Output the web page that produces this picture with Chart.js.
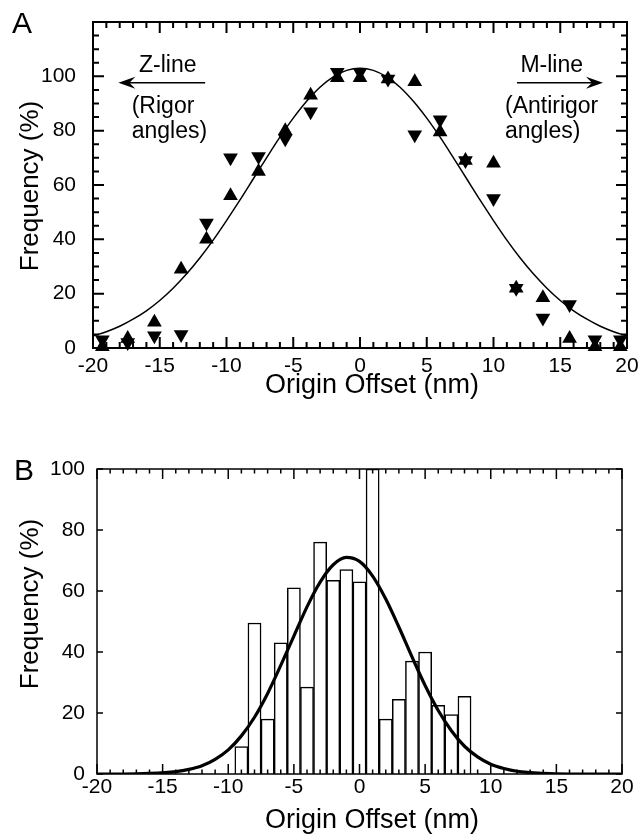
<!DOCTYPE html>
<html>
<head>
<meta charset="utf-8">
<script src="https://cdn.jsdelivr.net/npm/chart.js@4.4.1/dist/chart.umd.min.js"></script>
<style>
  html, body { margin: 0; padding: 0; background: #fff; }
  #wrap { position: relative; width: 643px; height: 834px; }
  #chartA { position: absolute; left: 0; top: 0; }
  #chartB { position: absolute; left: 0; top: 420px; }
</style>
</head>
<body>
<div id="wrap">
  <canvas id="chartA" width="643" height="420"></canvas>
  <canvas id="chartB" width="643" height="414"></canvas>
</div>
<script>
// Panel A : origin offset vs frequency, two marker series
var offsetsA = [-19.3, -17.4, -15.4, -13.4, -11.5, -9.7, -7.6, -5.6, -3.7, -1.7, 0, 2.1, 4.1, 6.0, 7.9, 10.0, 11.7, 13.7, 15.7, 17.6, 19.5];
var upA      = [0.5, 3.5, 9.5, 29, 40, 56, 65, 80, 93, 99.5, 99.5, 99, 98, 79.5, 69, 68, 22, 18.5, 3.5, 0.5, 0.5];
var downA    = [3, 2, 4.5, 5, 46, 70, 70.5, 77, 87, 101.5, 101.5, 99, 78.5, 84, 69, 55, 22, 11, 16, 3, 3];

// Panel A fitted curve
var fitXA = [-20, -19, -18, -17, -16, -15, -14, -13, -12, -11, -10, -9, -8, -7, -6, -5, -4, -3, -2, -1, 0,
             1, 2, 3, 4, 5, 6, 7, 8, 9, 10, 11, 12, 13, 14, 15, 16, 17, 18, 19, 20];
var fitYA = [4.4, 6.0, 8.0, 10.6, 13.7, 17.5, 22.0, 27.2, 33.1, 39.7, 46.9, 54.4, 62.2, 70.0, 77.6, 84.6, 90.8, 96.0, 99.8, 102.2, 103,
             102.2, 99.8, 96.0, 90.8, 84.6, 77.6, 70.0, 62.2, 54.4, 46.9, 39.7, 33.1, 27.2, 22.0, 17.5, 13.7, 10.6, 8.0, 6.0, 4.4];

// Panel B : histogram, 1 nm bins
var binsB = [-9, -8, -7, -6, -5, -4, -3, -2, -1, 0, 1, 2, 3, 4, 5, 6, 7, 8];
var freqB = [9, 49.5, 18, 43, 61, 28.5, 76, 63.5, 67, 63, 100, 18, 24.5, 37, 40, 22.5, 19.5, 25.5];

// Panel B fitted curve
var fitXB = [-20, -18, -16, -14, -13, -12, -11, -10, -9, -8, -7, -6, -5, -4, -3, -2, -1, 0,
             1, 2, 3, 4, 5, 6, 7, 8, 9, 10, 11, 12, 14, 16, 18, 20];
var fitYB = [0, 0, 0.2, 0.8, 1.5, 2.7, 4.8, 7.9, 12.5, 18.6, 26.4, 35.6, 45.2, 54.8, 62.9, 68.6, 71, 69.7,
             64.9, 57.4, 48.2, 38.4, 29, 20.8, 14.2, 9.1, 5.6, 3.2, 1.8, 0.9, 0.2, 0, 0, 0];

// tick labels
var xTickLabels = [-20, -15, -10, -5, 0, 5, 10, 15, 20];
var yTickLabels = [0, 20, 40, 60, 80, 100];

var FONT = '"Liberation Sans", Arial, Helvetica, sans-serif';
Chart.defaults.font.family = FONT;
Chart.defaults.color = '#000';

function pts(xs, ys) {
	return xs.map(function (x, i) { return { x: x, y: ys[i] }; });
}

function useTicks(list) {
	return function (scale) {
		scale.ticks = list.map(function (v) { return { value: v }; });
	};
}

// fixed axis size, and no extra label padding pushed onto the plot area
function fixSize(w, h) {
	return function (s) {
		if (w) s.width = w;
		if (h) s.height = h;
		s.paddingTop = s.paddingBottom = s.paddingLeft = s.paddingRight = 0;
	};
}

function isMajor(v, step) {
	return Math.abs(v / step - Math.round(v / step)) < 1e-6;
}

// box round the plot area with inward ticks on all four sides
function drawFrame(chart, o) {
	var ctx = chart.ctx, a = chart.chartArea, xs = chart.scales.x, ys = chart.scales.y;
	var v, p, len;
	ctx.save();
	ctx.strokeStyle = '#000';
	ctx.lineWidth = o.lineWidth;
	ctx.beginPath();
	for (v = xs.min; v <= xs.max + 1e-6; v += o.xMinor) {
		p = xs.getPixelForValue(v);
		len = isMajor(v, o.xMajor) ? o.xMajorLen : o.xMinorLen;
		ctx.moveTo(p, a.bottom); ctx.lineTo(p, a.bottom - len);
		ctx.moveTo(p, a.top); ctx.lineTo(p, a.top + len);
	}
	for (v = ys.min; v <= ys.max + 1e-6; v += o.yMinor) {
		p = ys.getPixelForValue(v);
		len = isMajor(v, o.yMajor) ? o.yMajorLen : o.yMinorLen;
		ctx.moveTo(a.left, p); ctx.lineTo(a.left + len, p);
		ctx.moveTo(a.right, p); ctx.lineTo(a.right - len, p);
	}
	ctx.stroke();
	ctx.strokeRect(a.left, a.top, a.right - a.left, a.bottom - a.top);
	ctx.restore();
}

var frameTicks = {
	id: 'frameTicks',
	beforeDatasetsDraw: function (chart, args, o) { if (!o.front) drawFrame(chart, o); },
	afterDatasetsDraw: function (chart, args, o) { if (o.front) drawFrame(chart, o); }
};

function arrow(ctx, x1, x2, y) {
	var dir = x2 > x1 ? 1 : -1;
	ctx.beginPath();
	ctx.moveTo(x1, y); ctx.lineTo(x2 - dir * 8, y);
	ctx.stroke();
	ctx.beginPath();
	ctx.moveTo(x2, y);
	ctx.lineTo(x2 - dir * 17, y - 6);
	ctx.lineTo(x2 - dir * 11, y);
	ctx.lineTo(x2 - dir * 17, y + 6);
	ctx.closePath();
	ctx.fill();
}

// panel letter, axis titles, and notes placed in data units
var panelText = {
	id: 'panelText',
	afterDraw: function (chart, args, o) {
		var ctx = chart.ctx, xs = chart.scales.x, ys = chart.scales.y;
		ctx.save();
		ctx.fillStyle = '#000';
		ctx.strokeStyle = '#000';
		ctx.textBaseline = 'alphabetic';
		ctx.textAlign = 'left';
		ctx.font = '30px ' + FONT;
		ctx.fillText(o.letter, o.letterX, o.letterY);

		ctx.textAlign = 'center';
		ctx.textBaseline = 'middle';
		ctx.font = '27px ' + FONT;
		ctx.fillText('Origin Offset (nm)', o.xTitleX, o.xTitleY);

		ctx.save();
		ctx.translate(o.yTitleX, o.yTitleY);
		ctx.rotate(-Math.PI / 2);
		ctx.font = '26px ' + FONT;
		ctx.fillText('Frequency (%)', 0, 0);
		ctx.restore();

		ctx.textBaseline = 'alphabetic';
		ctx.font = '23px ' + FONT;
		(o.notes || []).forEach(function (n) {
			ctx.textAlign = n.align;
			ctx.fillText(n.text, xs.getPixelForValue(n.x), ys.getPixelForValue(n.y));
		});
		ctx.lineWidth = 1.5;
		(o.arrows || []).forEach(function (r) {
			arrow(ctx, xs.getPixelForValue(r.from), xs.getPixelForValue(r.to), ys.getPixelForValue(r.y));
		});
		ctx.restore();
	}
};

var tickFont = { size: 21 };

window.addEventListener('load', function () {
	new Chart(document.getElementById('chartA').getContext('2d'), {
		type: 'scatter',
		data: {
			datasets: [{
				data: pts(fitXA, fitYA),
				showLine: true,
				borderColor: '#000',
				borderWidth: 1.5,
				pointRadius: 0,
				cubicInterpolationMode: 'monotone',
				order: 3
			}, {
				data: pts(offsetsA, upA),
				pointStyle: 'triangle',
				pointRadius: 8.5,
				pointBackgroundColor: '#000',
				pointBorderWidth: 0,
				clip: false,
				order: 2
			}, {
				data: pts(offsetsA, downA),
				pointStyle: 'triangle',
				pointRotation: 180,
				pointRadius: 8.5,
				pointBackgroundColor: '#000',
				pointBorderWidth: 0,
				clip: false,
				order: 1
			}]
		},
		options: {
			responsive: false,
			animation: false,
			devicePixelRatio: 1,
			layout: { autoPadding: false, padding: { left: 0, right: 16, top: 22, bottom: 0 } },
			plugins: {
				legend: { display: false },
				tooltip: { enabled: false },
				frameTicks: {
					front: false, lineWidth: 2,
					xMinor: 1, xMajor: 5, xMajorLen: 11, xMinorLen: 6,
					yMinor: 5, yMajor: 20, yMajorLen: 11, yMinorLen: 6
				},
				panelText: {
					letter: 'A', letterX: 12, letterY: 33,
					xTitleX: 372, xTitleY: 386,
					yTitleX: 31, yTitleY: 186,
					notes: [
						{ text: 'Z-line', x: -14.4, y: 101.7, align: 'center' },
						{ text: '(Rigor', x: -17.1, y: 86.6, align: 'left' },
						{ text: 'angles)', x: -17.1, y: 77.3, align: 'left' },
						{ text: 'M-line', x: 14.36, y: 101.7, align: 'center' },
						{ text: '(Antirigor', x: 10.86, y: 86.6, align: 'left' },
						{ text: 'angles)', x: 10.86, y: 77.3, align: 'left' }
					],
					arrows: [
						{ from: -11.6, to: -18.1, y: 97.6 },
						{ from: 11.76, to: 18.2, y: 97.6 }
					]
				}
			},
			scales: {
				x: {
					type: 'linear', min: -20, max: 20,
					afterBuildTicks: useTicks(xTickLabels),
					afterFit: fixSize(0, 72),
					grid: { display: false, drawTicks: false },
					border: { display: false },
					ticks: { font: tickFont, padding: 6, maxRotation: 0 }
				},
				y: {
					min: 0, max: 120,
					afterBuildTicks: useTicks(yTickLabels),
					afterFit: fixSize(93, 0),
					grid: { display: false, drawTicks: false },
					border: { display: false },
					ticks: { font: tickFont, padding: 17 }
				}
			}
		},
		plugins: [frameTicks, panelText]
	});

	new Chart(document.getElementById('chartB').getContext('2d'), {
		type: 'bar',
		data: {
			datasets: [{
				type: 'line',
				data: pts(fitXB, fitYB),
				borderColor: '#000',
				borderWidth: 3.2,
				pointRadius: 0,
				cubicInterpolationMode: 'monotone',
				order: 1
			}, {
				type: 'bar',
				data: pts(binsB, freqB),
				backgroundColor: '#fff',
				borderColor: '#000',
				borderWidth: 1.5,
				borderSkipped: 'start',
				barPercentage: 1,
				categoryPercentage: 1,
				order: 2
			}]
		},
		options: {
			responsive: false,
			animation: false,
			devicePixelRatio: 1,
			layout: { autoPadding: false, padding: { left: 0, right: 21, top: 49, bottom: 0 } },
			plugins: {
				legend: { display: false },
				tooltip: { enabled: false },
				frameTicks: {
					front: true, lineWidth: 1.5,
					xMinor: 1, xMajor: 5, xMajorLen: 10, xMinorLen: 4.5,
					yMinor: 20, yMajor: 20, yMajorLen: 6, yMinorLen: 6
				},
				panelText: {
					letter: 'B', letterX: 14, letterY: 60,
					xTitleX: 372, xTitleY: 401,
					yTitleX: 31, yTitleY: 184
				}
			},
			scales: {
				x: {
					type: 'linear', min: -20, max: 20, offset: false,
					afterBuildTicks: useTicks(xTickLabels),
					afterFit: fixSize(0, 60),
					grid: { display: false, drawTicks: false },
					border: { display: false },
					ticks: { font: tickFont, padding: 1, maxRotation: 0 }
				},
				y: {
					min: 0, max: 100,
					afterBuildTicks: useTicks(yTickLabels),
					afterFit: fixSize(97, 0),
					grid: { display: false, drawTicks: false },
					border: { display: false },
					ticks: { font: tickFont, padding: 12 }
				}
			}
		},
		plugins: [frameTicks, panelText]
	});
});
</script>
</body>
</html>
